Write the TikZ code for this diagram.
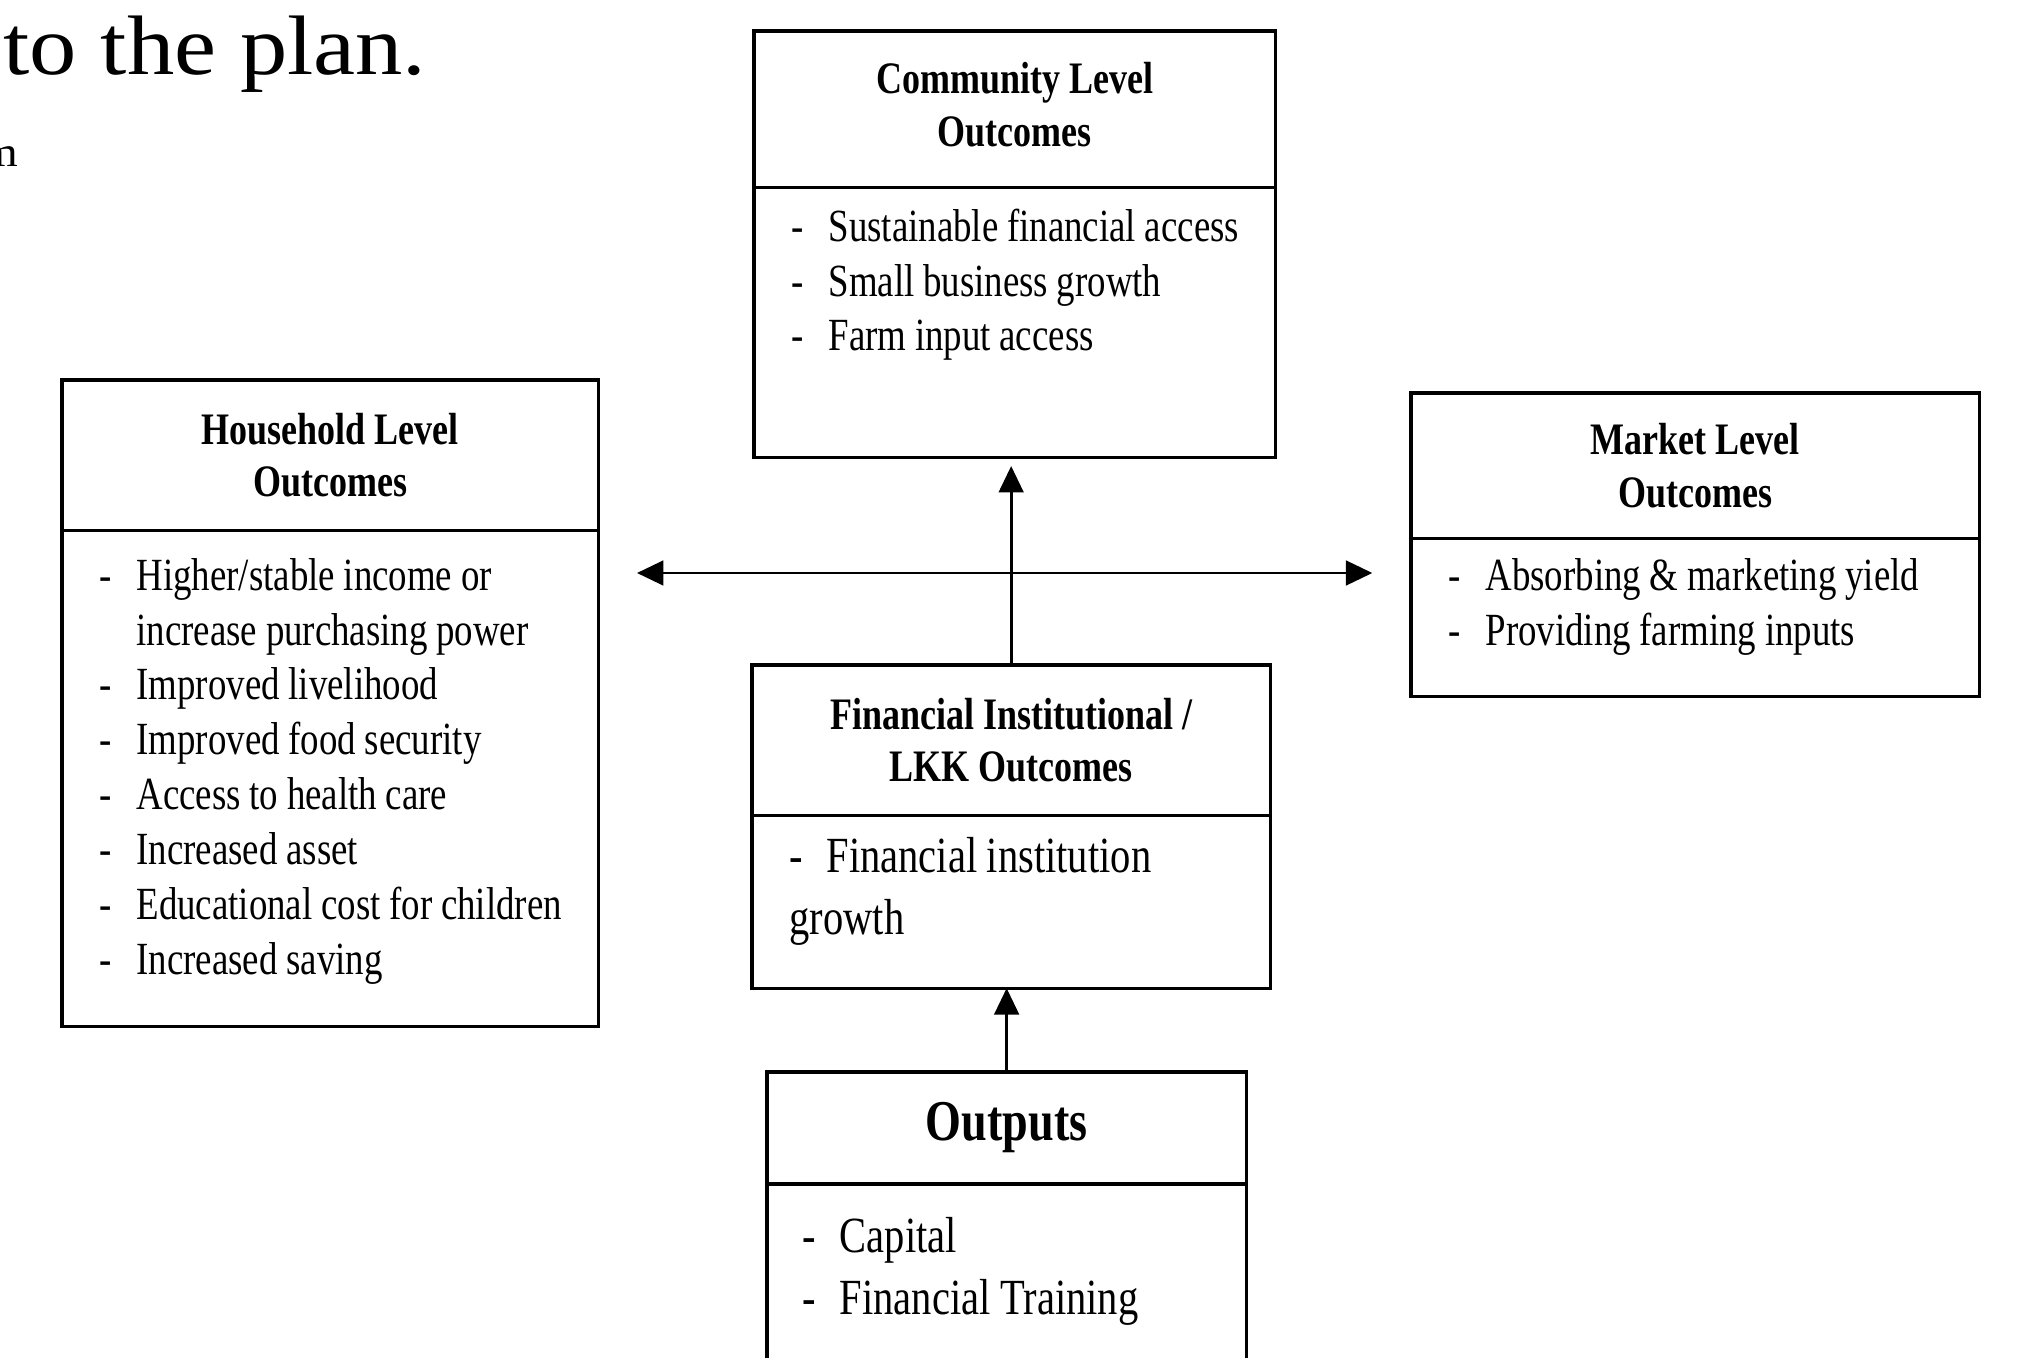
\documentclass[tikz,border=0pt]{standalone}
\usepackage{fontspec}
\setmainfont{Liberation Serif}
\newfontfamily\diagfont[FakeStretch=0.8]{Liberation Serif}
\newfontfamily\pagefont[FakeStretch=1.12]{Liberation Serif}
\usetikzlibrary{positioning}
\usetikzlibrary{arrows.meta}
\newcommand{\dashitem}[1]{\par\noindent\hangindent=10.5pt\hangafter=1\spaceskip=0.19em\strut\makebox[10.5pt][l]{-}#1}

\begin{document}
\begin{tikzpicture}[x=0.01cm,y=-0.01cm,>={Triangle[length=7.5pt,width=7pt]},
		hdr/.style={draw,line width=0.9pt,anchor=north west,inner sep=0pt,outer sep=0pt,align=center,
			font=\diagfont\bfseries\fontsize{12.8}{15}\selectfont},
		box/.style={draw,line width=0.9pt,inner sep=0pt,outer sep=0pt},
		items/.style={anchor=north west,inner sep=0pt,align=left,
			font=\diagfont\fontsize{13.1}{15.6}\selectfont},
		bigitems/.style={items,font=\diagfont\fontsize{14.4}{17.6}\selectfont},
		link/.style={line width=0.8pt}]
		\useasboundingbox (0,0) rectangle (2018,1358);
		\clip (0,0) rectangle (2018,1358);
		
		% text of the page round the figure
		\node[anchor=base west,inner sep=0pt,font=\pagefont\fontsize{24}{28}\selectfont] (plan) at (3,75) {to the plan.};
		\node[anchor=base east,inner sep=0pt,font=\pagefont\fontsize{12}{14}\selectfont] (frag) at (19,167) {m};
		
		% community level
		\node[hdr,minimum width=5.21cm,minimum height=1.56cm] (chdr) at (754,31) {Community Level\\Outcomes\rule[-2.5pt]{0pt}{1pt}};
		\node[box,minimum width=5.21cm,minimum height=2.70cm,below=0pt of chdr] (cbody) {};
		\node[items,text width=4.8cm,below right=-0.4pt and 10.5pt of cbody.north west] (ctext)
			{\dashitem{Sustainable financial access}\dashitem{Small business growth}\dashitem{Farm input access}};
		
		% household level
		\node[hdr,minimum width=5.36cm,minimum height=1.50cm] (hhdr) at (62,380) {Household Level\\Outcomes};
		\node[box,minimum width=5.36cm,minimum height=4.96cm,below=0pt of hhdr] (hbody) {};
		\node[items,text width=4.9cm,below right=1.3pt and 10.5pt of hbody.north west] (htext)
			{\dashitem{Higher/stable income or\newline increase purchasing power}\dashitem{Improved livelihood}
			\dashitem{Improved food security}\dashitem{Access to health care}\dashitem{Increased asset}
			\dashitem{Educational cost for children}\dashitem{Increased saving}};
		
		% market level
		\node[hdr,minimum width=5.68cm,minimum height=1.45cm] (mhdr) at (1411,393) {Market Level\\Outcomes};
		\node[box,minimum width=5.68cm,minimum height=1.58cm,below=0pt of mhdr] (mbody) {};
		\node[items,text width=5.2cm,below right=-0.9pt and 10.5pt of mbody.north west] (mtext)
			{\dashitem{Absorbing \& marketing yield}\dashitem{Providing farming inputs}};
		
		% financial institution
		\node[hdr,minimum width=5.18cm,minimum height=1.50cm] (fhdr) at (752,665) {Financial Institutional /\\LKK Outcomes};
		\node[box,minimum width=5.18cm,minimum height=1.73cm,below=0pt of fhdr] (fbody) {};
		\node[bigitems,text width=4.8cm,below right=-1.5pt and 10.5pt of fbody.north west] (ftext)
			{\dashitem{Financial institution\newline growth}};
		
		% outputs
		\node[hdr,minimum width=4.79cm,minimum height=1.12cm,font=\diagfont\bfseries\fontsize{16.4}{19}\selectfont] (ohdr) at (767,1072) {\raisebox{-1.8pt}{Outputs}};
		\node[box,minimum width=4.79cm,minimum height=2.6cm,below=0pt of ohdr] (obody) {};
		\node[bigitems,text width=4.4cm,below right=1.7pt and 10pt of obody.north west] (otext)
			{\dashitem{Capital}\dashitem{Financial Training}};
		
		% arrows
		\coordinate (hub) at (1009,573);
		\draw[link,->,shorten >=2.5pt] (fhdr.north) -- (fhdr.north |- cbody.south);
		\draw[link,->] (ohdr.north) -- (ohdr.north |- fbody.south);
		\draw[link,<->,shorten <=11pt,shorten >=11pt] (hbody.east |- hub) -- (mbody.west |- hub);
\end{tikzpicture}
\end{document}
